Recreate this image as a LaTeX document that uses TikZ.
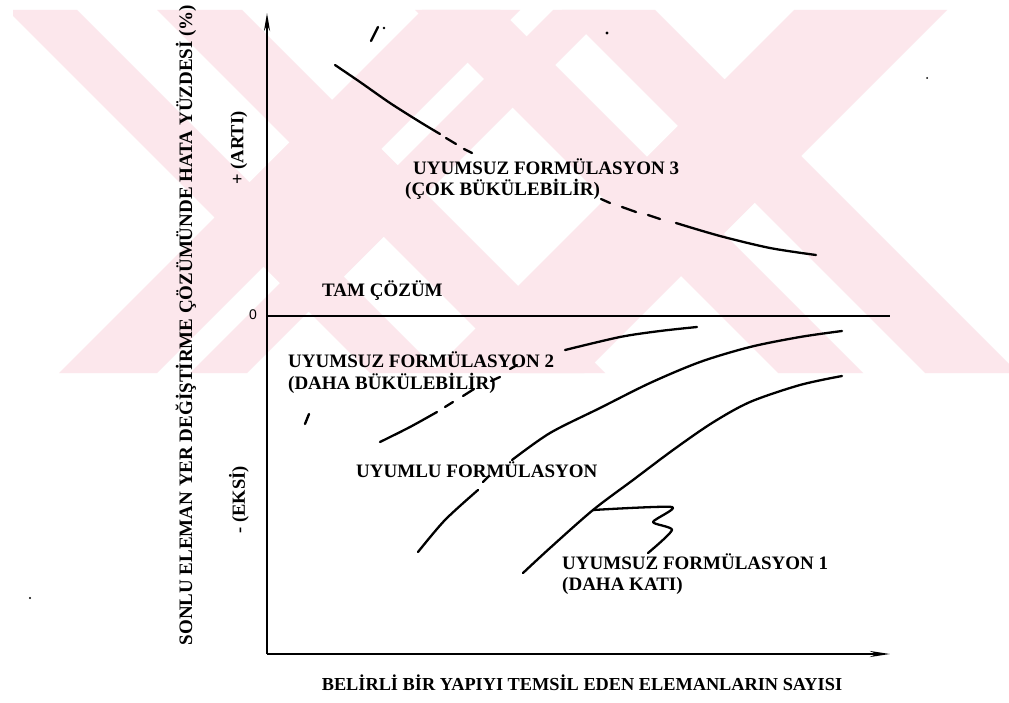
\documentclass[tikz,border=0pt]{standalone}
\usepackage{fontspec}
\usetikzlibrary{arrows.meta}
\setmainfont{Liberation Serif}
\newfontfamily\zerofont{Liberation Sans}
\definecolor{wmpink}{RGB}{252,231,236}
\begin{document}
\begin{tikzpicture}[x=1pt,y=-1pt,
  lab/.style={font=\bfseries\fontsize{19}{22}\selectfont, inner sep=0pt, anchor=base west},
  tit/.style={font=\bfseries\fontsize{19}{22}\selectfont, inner sep=0pt},
  side/.style={font=\bfseries\fontsize{18.5}{22}\selectfont, inner sep=0pt, rotate=90},
  curve/.style={line width=2.3pt, line cap=round, line join=round},
  axis/.style={line width=2.3pt},
  wm/.style={fill=wmpink},
  straymk/.style={line width=2.4pt, line cap=round}]
\useasboundingbox (0,0) rectangle (1009,703);
\fill[white] (0,0) rectangle (1009,703);
% ---------- watermark: two overlapping double-stroke X shapes ----------
\begin{scope}
\clip (13,10) rectangle (1009,373);
% X_A : "\" stripes c=x-y in [-3,67] and [147,232]
\fill[wm] (7,10) -- (77,10) -- (440,373) -- (370,373) -- cycle;
\fill[wm] (157,10) -- (242,10) -- (605,373) -- (520,373) -- cycle;
% X_A : "/" stripes s=x+y in [432,530] and [563,620]
\fill[wm] (422,10) -- (520,10) -- (157,373) -- (59,373) -- cycle;
\fill[wm] (553,10) -- (610,10) -- (247,373) -- (190,373) -- cycle;
% X_A crossing
\fill[wm] (214.5,217.5) -- (332,100) -- (426,194) -- (308.5,311.5) -- cycle;
% X_B : "\" stripes c in [405,490] and [552,645]
\fill[wm] (415,10) -- (500,10) -- (863,373) -- (778,373) -- cycle;
\fill[wm] (562,10) -- (655,10) -- (1018,373) -- (925,373) -- cycle;
% X_B : "/" stripe s in [804,957]
\fill[wm] (794,10) -- (947,10) -- (584,373) -- (431,373) -- cycle;
% X_B crossing
\fill[wm] (604.5,199.5) -- (724.5,79.5) -- (801,156) -- (681,276) -- cycle;
\end{scope}
% ---------- axes ----------
\coordinate (O) at (267,654);
\coordinate (ytop) at (267,13);
\coordinate (xend) at (890,654);
\coordinate (z0) at (267,316);
\coordinate (z1) at (890,316);
\draw[axis,-{Stealth[length=18pt,width=6pt]}] (O) -- (ytop);
\draw[axis,-{Stealth[length=20pt,width=6pt]}] (O) -- (xend);
\draw[axis,line width=2.7pt] (z0) -- (z1);
\node[font=\zerofont\fontsize{14}{16}\selectfont, inner sep=0pt] (zero) at (253,315) {0};
% ---------- curve 3 ----------
\draw[curve] plot[smooth] coordinates {(335,65) (360,82) (390,103) (420,122) (440,134)};
\draw[curve] (446,138) -- (456,144);
\draw[curve] (464,149) -- (472,153);
\draw[curve] (601,199) -- (610,203);
\draw[curve] (622,207) -- (636,212);
\draw[curve] (648,215) -- (660,219);
\draw[curve] plot[smooth] coordinates {(676,223) (720,236) (770,248) (816,255)};
% ---------- curve 2 ----------
\draw[curve] plot[smooth] coordinates {(380,442) (410,427) (437,412)};
\draw[curve] (445,407) -- (453,402);
\draw[curve] (463,396) -- (474,389);
\draw[curve] (491,381) -- (500,377);
\draw[curve] (510,369) -- (517,365);
\draw[curve] plot[smooth] coordinates {(565,350) (620,337) (660,331) (697,327)};
% ---------- uyumlu curve ----------
\draw[curve] plot[smooth] coordinates {(418,552) (445,520) (478,490)};
\draw[curve] (483,482) -- (489,476);
\draw[curve] plot[smooth] coordinates {(512,460) (550,433) (600,408) (650,383) (700,362) (750,347) (800,337) (842,331)};
% ---------- uyumsuz 1 curve ----------
\draw[curve] plot[smooth] coordinates {(523,573) (550,548) (593,510) (633,480) (673,450) (712,423) (750,402) (800,385) (842,376)};
\draw[curve] plot[smooth, tension=0.4] coordinates {(593,510) (672,507) (653,522) (672,530) (648,553)};
% ---------- stray marks ----------
\draw[straymk] (371,41) -- (378,27);
\fill (384,28) circle (1.4pt);
\fill (607,33) circle (1.6pt);
\fill (927,78) circle (1pt);
\draw[straymk] (309,414) -- (305,424);
\fill (30,598) circle (1.2pt);
% ---------- labels ----------
\node[lab] (u3a) at (413,175) {UYUMSUZ FORMÜLASYON 3};
\node[lab] (u3b) at (405,196) {(ÇOK BÜKÜLEBİLİR)};
\node[lab] (tam) at (322,297) {TAM ÇÖZÜM};
\node[lab] (u2a) at (288,367) {UYUMSUZ FORMÜLASYON 2};
\node[lab] (u2b) at (288,389) {(DAHA BÜKÜLEBİLİR)};
\node[lab] (uy) at (356,477) {UYUMLU FORMÜLASYON};
\node[lab] (u1a) at (562,569) {UYUMSUZ FORMÜLASYON 1};
\node[lab] (u1b) at (562,590) {(DAHA KATI)};
\node[side] (arti) at (239,148) {+ (ARTI)};
\node[side] (eksi) at (239,500) {- (EKSİ)};
\node[tit,rotate=90] (ytit) at (186,325) {SONLU ELEMAN YER DEĞİŞTİRME ÇÖZÜMÜNDE HATA YÜZDESİ (\%)};
\node[tit,font=\bfseries\fontsize{18.3}{22}\selectfont] (xtit) at (582,683) {BELİRLİ BİR YAPIYI TEMSİL EDEN ELEMANLARIN SAYISI};
\end{tikzpicture}
\end{document}
